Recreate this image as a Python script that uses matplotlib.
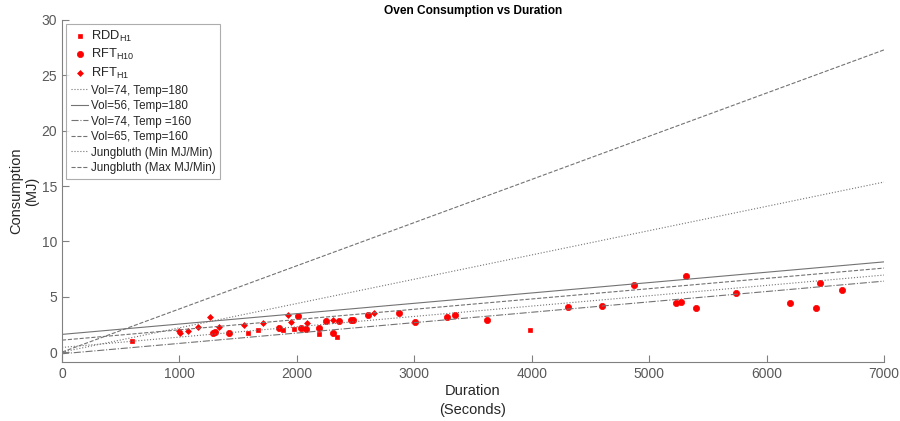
import matplotlib
matplotlib.use("Agg")
import matplotlib.pyplot as plt
import numpy as np

plt.rcParams['font.family'] = ['Liberation Sans', 'DejaVu Sans']
plt.rcParams['mathtext.default'] = 'regular'

# --- data ---
rdd_h1_x = [600, 1584, 1669, 1879, 1975, 2191, 2342, 3983]
rdd_h1_y = [0.99, 1.75, 1.96, 2.02, 2.05, 1.66, 1.36, 1.96]

rft_h10_x = [1289, 1306, 1422, 1845, 2012, 2035, 2075, 2186, 2245, 2305, 2362,
             2461, 2481, 2606, 2873, 3003, 3278, 3347, 3616, 4312, 4596, 4871,
             5226, 5268, 5317, 5396, 5737, 6202, 6418, 6458, 6642]
rft_h10_y = [1.69, 1.83, 1.72, 2.17, 3.22, 2.17, 2.05, 2.14, 2.77, 1.72, 2.80,
             2.89, 2.89, 3.31, 3.55, 2.71, 3.19, 3.34, 2.89, 4.09, 4.18, 6.02,
             4.40, 4.55, 6.90, 4.00, 5.30, 4.40, 4.00, 6.23, 5.57]

rft_h1_x = [1000, 1005, 1075, 1155, 1260, 1340, 1553, 1709, 1922, 1950, 2086, 2305, 2654]
rft_h1_y = [1.90, 1.72, 1.90, 2.23, 3.19, 2.23, 2.47, 2.65, 3.31, 2.74, 2.65, 2.92, 3.52]

line_x = [0, 7000]
vol74_t180 = [0.42, 6.96]
vol56_t180 = [1.60, 8.15]
vol74_t160 = [-0.15, 6.41]
vol65_t160 = [1.08, 7.59]
jung_min = [0.0, 15.36]
jung_max = [0.0, 27.3]

# --- plot ---
fig = plt.figure(figsize=(9, 4.21), dpi=100)
ax = fig.add_axes([0.0689, 0.140, 0.9133, 0.8125])

red = (1, 0, 0)
ax.plot(rdd_h1_x, rdd_h1_y, 's', color=red, markersize=3, markeredgewidth=0.5, label=r'RDD$_{H1}$')
ax.plot(rft_h10_x, rft_h10_y, 'o', color=red, markersize=4.5, markeredgewidth=0.5, label=r'RFT$_{H10}$')
ax.plot(rft_h1_x, rft_h1_y, 'D', color=red, markersize=3.0, markeredgewidth=0.5, label=r'RFT$_{H1}$')

lc = '0.45'
lw = 0.8
ax.plot(line_x, vol74_t180, ':', color=lc, lw=lw, label='Vol=74, Temp=180')
ax.plot(line_x, vol56_t180, '-', color=lc, lw=lw, label='Vol=56, Temp=180')
ax.plot(line_x, vol74_t160, '-.', color=lc, lw=lw, label='Vol=74, Temp =160')
ax.plot(line_x, vol65_t160, '--', color=lc, lw=lw, label='Vol=65, Temp=160')
ax.plot(line_x, jung_min, ':', color=lc, lw=lw, label='Jungbluth (Min MJ/Min)')
ax.plot(line_x, jung_max, '--', color=lc, lw=lw, label='Jungbluth (Max MJ/Min)')

ax.set_xlim(0, 7000)
ax.set_ylim(-0.9, 30)
ax.set_xticks(np.arange(0, 7001, 1000))
ax.set_yticks(np.arange(0, 31, 5))

spc = '0.5'
for s in ['top', 'right']:
    ax.spines[s].set_visible(False)
for s in ['left', 'bottom']:
    ax.spines[s].set_color(spc)
    ax.spines[s].set_linewidth(0.8)
ax.tick_params(direction='in', length=5, width=0.8, color=spc, labelcolor='0.35', labelsize=10)

ax.set_title('Oven Consumption vs Duration', fontsize=8.6, fontweight='bold', pad=4)
ax.set_xlabel('Duration\n(Seconds)', fontsize=10.5, color='0.15', labelpad=2, linespacing=1.5)
ax.set_ylabel('Consumption\n(MJ)', fontsize=10.5, color='0.15', linespacing=1.15)
ax.yaxis.set_label_coords(-0.028, 0.5)

leg = ax.legend(loc='upper left', fontsize=8.4, frameon=True, fancybox=False,
                edgecolor='0.6', handlelength=1.5, handletextpad=0.2,
                borderpad=0.4, labelspacing=0.3, borderaxespad=0.35)
leg.get_frame().set_linewidth(0.8)
for i, t in enumerate(leg.get_texts()):
    t.set_color('0.15')
    if i < 3:
        t.set_fontsize(9.3)

fig.savefig('out.png', dpi=100)
